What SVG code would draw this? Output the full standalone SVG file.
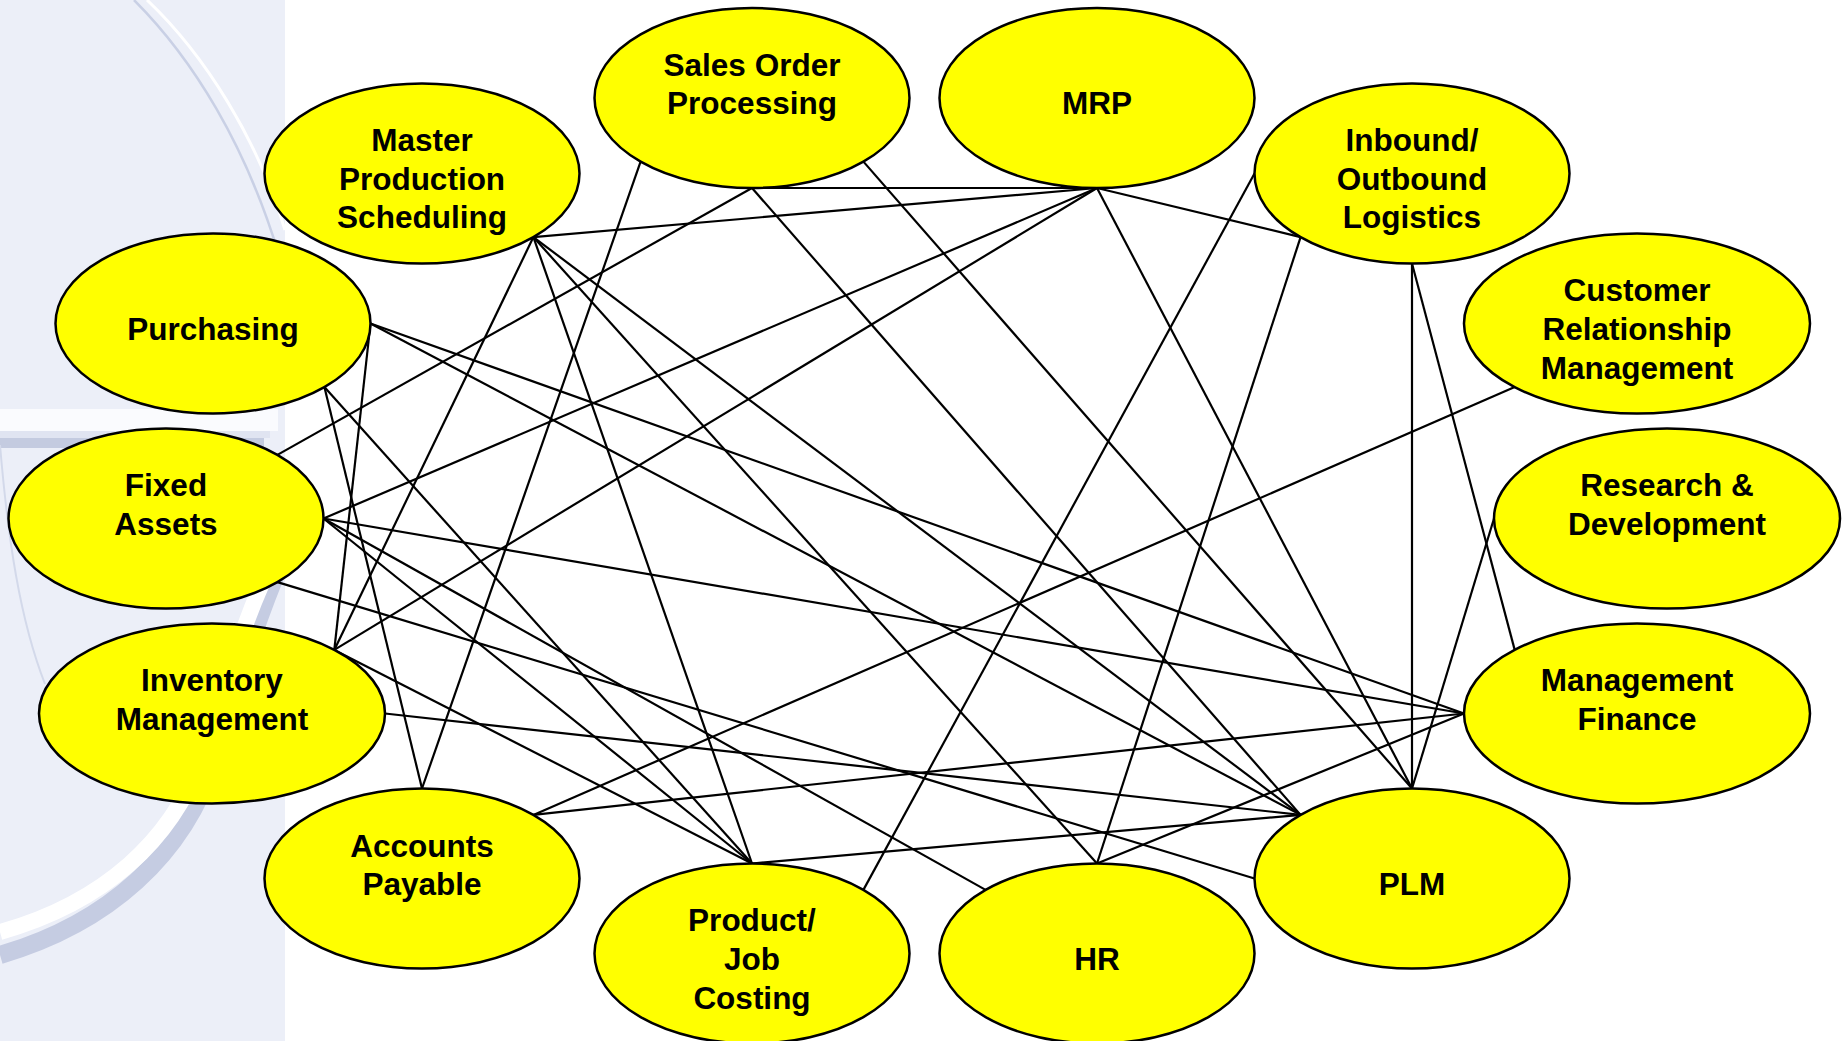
<svg xmlns="http://www.w3.org/2000/svg" width="1843" height="1041" viewBox="0 0 1843 1041">
  <style>
    .node ellipse { fill: #FFFF00; stroke: #000000; stroke-width: 2.5; }
    .node text { font-family: "Liberation Sans", Arial, sans-serif; font-weight: bold; font-size: 31.5px; fill: #000000; text-anchor: middle; }
    #connectors line { stroke: #000000; stroke-width: 2.2; fill: none; }
  </style>
  <rect x="0" y="0" width="1843" height="1041" fill="#FFFFFF"/>
  <g id="background">
    <rect x="0" y="0" width="285" height="1041" fill="#ECEFF8"/>
    <path d="M134,0 C192,58 247,145 281,262" fill="none" stroke="#C9D0E5" stroke-width="2.5"/>
    <path d="M147,0 C205,55 258,140 285,230" fill="none" stroke="#FFFFFF" stroke-width="3"/>
    <rect x="0" y="409" width="278" height="22" fill="#FAFBFE"/>
    <rect x="0" y="431" width="270" height="7" fill="#E0E4F1"/>
    <rect x="0" y="438" width="264" height="10" fill="#C4CBE0"/>
    <path d="M0,445 C8,540 20,620 45,684" fill="none" stroke="#D3D9EA" stroke-width="2"/>
    <path d="M0,955 C106,924 186,856 216,754 S260,612 285,552" fill="none" stroke="#C5CCE2" stroke-width="18"/>
    <path d="M0,932 C100,904 176,842 206,745 S250,605 280,545" fill="none" stroke="#FFFFFF" stroke-width="16"/>
  </g>
  <g id="connectors">
    <line x1="752" y1="188" x2="1097" y2="188"/>
    <line x1="533.4" y1="237.1" x2="1097" y2="188"/>
    <line x1="533.4" y1="237.1" x2="334.3" y2="649.9"/>
    <line x1="533.4" y1="237.1" x2="752" y2="863.5"/>
    <line x1="533.4" y1="237.1" x2="1097" y2="863.5"/>
    <line x1="533.4" y1="237.1" x2="1300.6" y2="814.9"/>
    <line x1="640.6" y1="161.6" x2="422" y2="788.5"/>
    <line x1="752" y1="188" x2="277.4" y2="454.9"/>
    <line x1="752" y1="188" x2="1300.6" y2="814.9"/>
    <line x1="863.4" y1="161.6" x2="1412" y2="788.5"/>
    <line x1="1097" y1="188" x2="323.5" y2="518.5"/>
    <line x1="1097" y1="188" x2="334.3" y2="649.9"/>
    <line x1="1097" y1="188" x2="1412" y2="788.5"/>
    <line x1="1097" y1="188" x2="1300.6" y2="237.1"/>
    <line x1="1254.5" y1="173.5" x2="863.4" y2="889.9"/>
    <line x1="1300.6" y1="237.1" x2="1097" y2="863.5"/>
    <line x1="1412" y1="263.5" x2="1412" y2="788.5"/>
    <line x1="1412" y1="263.5" x2="1514.7" y2="649.9"/>
    <line x1="1514.7" y1="387.1" x2="533.4" y2="814.9"/>
    <line x1="1494" y1="518.5" x2="1412" y2="788.5"/>
    <line x1="1464" y1="713.5" x2="370.5" y2="323.5"/>
    <line x1="1464" y1="713.5" x2="323.5" y2="518.5"/>
    <line x1="1464" y1="713.5" x2="533.4" y2="814.9"/>
    <line x1="1464" y1="713.5" x2="1097" y2="863.5"/>
    <line x1="1300.6" y1="814.9" x2="370.5" y2="323.5"/>
    <line x1="1300.6" y1="814.9" x2="385" y2="713.5"/>
    <line x1="1300.6" y1="814.9" x2="752" y2="863.5"/>
    <line x1="1254.5" y1="878.5" x2="277.4" y2="582.1"/>
    <line x1="370.5" y1="323.5" x2="334.3" y2="649.9"/>
    <line x1="324.4" y1="387.1" x2="422" y2="788.5"/>
    <line x1="324.4" y1="387.1" x2="752" y2="863.5"/>
    <line x1="323.5" y1="518.5" x2="985.6" y2="889.9"/>
    <line x1="323.5" y1="518.5" x2="752" y2="863.5"/>
    <line x1="334.3" y1="649.9" x2="752" y2="863.5"/>
  </g>
  <g id="node-mps" class="node">
    <ellipse cx="422" cy="173.5" rx="157.5" ry="90"/>
    <text x="422" y="151">Master</text>
    <text x="422" y="190">Production</text>
    <text x="422" y="228">Scheduling</text>
  </g>
  <g id="node-sop" class="node">
    <ellipse cx="752" cy="98" rx="157.5" ry="90"/>
    <text x="752" y="76">Sales Order</text>
    <text x="752" y="114">Processing</text>
  </g>
  <g id="node-mrp" class="node">
    <ellipse cx="1097" cy="98" rx="157.5" ry="90"/>
    <text x="1097" y="114">MRP</text>
  </g>
  <g id="node-logistics" class="node">
    <ellipse cx="1412" cy="173.5" rx="157.5" ry="90"/>
    <text x="1412" y="151">Inbound/</text>
    <text x="1412" y="190">Outbound</text>
    <text x="1412" y="228">Logistics</text>
  </g>
  <g id="node-crm" class="node">
    <ellipse cx="1637" cy="323.5" rx="173" ry="90"/>
    <text x="1637" y="301">Customer</text>
    <text x="1637" y="340">Relationship</text>
    <text x="1637" y="379">Management</text>
  </g>
  <g id="node-rd" class="node">
    <ellipse cx="1667" cy="518.5" rx="173" ry="90"/>
    <text x="1667" y="496">Research &amp;</text>
    <text x="1667" y="535">Development</text>
  </g>
  <g id="node-mf" class="node">
    <ellipse cx="1637" cy="713.5" rx="173" ry="90"/>
    <text x="1637" y="691">Management</text>
    <text x="1637" y="730">Finance</text>
  </g>
  <g id="node-plm" class="node">
    <ellipse cx="1412" cy="878.5" rx="157.5" ry="90"/>
    <text x="1412" y="895">PLM</text>
  </g>
  <g id="node-hr" class="node">
    <ellipse cx="1097" cy="953.5" rx="157.5" ry="90"/>
    <text x="1097" y="970">HR</text>
  </g>
  <g id="node-pjc" class="node">
    <ellipse cx="752" cy="953.5" rx="157.5" ry="90"/>
    <text x="752" y="931">Product/</text>
    <text x="752" y="970">Job</text>
    <text x="752" y="1009">Costing</text>
  </g>
  <g id="node-ap" class="node">
    <ellipse cx="422" cy="878.5" rx="157.5" ry="90"/>
    <text x="422" y="857">Accounts</text>
    <text x="422" y="895">Payable</text>
  </g>
  <g id="node-im" class="node">
    <ellipse cx="212" cy="713.5" rx="173" ry="90"/>
    <text x="212" y="691">Inventory</text>
    <text x="212" y="730">Management</text>
  </g>
  <g id="node-fa" class="node">
    <ellipse cx="166" cy="518.5" rx="157.5" ry="90"/>
    <text x="166" y="496">Fixed</text>
    <text x="166" y="535">Assets</text>
  </g>
  <g id="node-purchasing" class="node">
    <ellipse cx="213" cy="323.5" rx="157.5" ry="90"/>
    <text x="213" y="340">Purchasing</text>
  </g>
</svg>
